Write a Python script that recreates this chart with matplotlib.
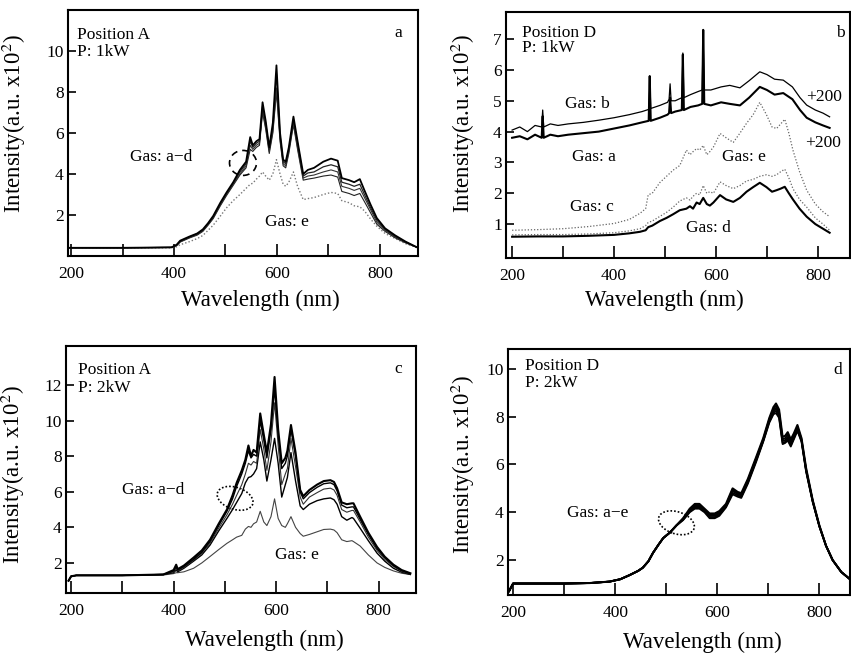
import matplotlib
matplotlib.use("Agg")
import matplotlib.pyplot as plt
from matplotlib.patches import Ellipse
from matplotlib.transforms import ScaledTranslation
from matplotlib.ticker import MultipleLocator

plt.rcParams['font.family'] = ['Liberation Serif', 'DejaVu Serif']
plt.rcParams['mathtext.fontset'] = 'stix'

# ---------------- Panel a: Position A, 1 kW ----------------
wl_a = [194, 300, 395, 405, 412, 430, 445, 456, 466, 476, 490, 502, 515, 528, 540, 548, 553, 560,
        566, 572, 578, 585, 592, 599, 606, 612, 617, 623, 632, 640, 651, 660, 672, 690, 705, 718,
        726, 740, 750, 761, 770, 782, 794, 810, 830, 850, 874]
a_gas1 = [0.4, 0.4, 0.42, 0.55, 0.75, 0.95, 1.1, 1.3, 1.6, 1.95, 2.6, 3.1, 3.6, 4.2, 4.6, 5.8, 5.4, 5.6,
          5.7, 7.5, 6.6, 5.3, 6.5, 9.3, 6.0, 4.7, 4.6, 5.3, 6.8, 5.6, 4.0, 4.2, 4.3, 4.6, 4.75, 4.65,
          3.8, 3.7, 3.6, 3.75, 3.2, 2.5, 1.85, 1.35, 1.0, 0.7, 0.4]
a_gas2 = [0.4, 0.4, 0.42, 0.53, 0.72, 0.93, 1.08, 1.27, 1.57, 1.9, 2.55, 3.05, 3.55, 4.1, 4.5, 5.6, 5.3, 5.5,
          5.6, 7.3, 6.5, 5.2, 6.3, 8.9, 5.9, 4.6, 4.5, 5.2, 6.6, 5.5, 3.9, 4.05, 4.1, 4.35, 4.45, 4.35,
          3.6, 3.5, 3.4, 3.5, 3.0, 2.35, 1.75, 1.3, 0.95, 0.68, 0.4]
a_gas3 = [0.4, 0.4, 0.42, 0.52, 0.7, 0.9, 1.05, 1.24, 1.53, 1.86, 2.5, 3.0, 3.5, 4.0, 4.4, 5.4, 5.2, 5.4,
          5.5, 7.1, 6.3, 5.1, 6.1, 8.2, 5.7, 4.5, 4.4, 5.1, 6.5, 5.3, 3.8, 3.9, 3.95, 4.1, 4.2, 4.1,
          3.4, 3.3, 3.2, 3.3, 2.85, 2.25, 1.65, 1.25, 0.92, 0.66, 0.4]
a_gas4 = [0.4, 0.4, 0.42, 0.5, 0.68, 0.88, 1.02, 1.2, 1.5, 1.82, 2.45, 2.95, 3.45, 3.95, 4.3, 5.2, 5.1, 5.3,
          5.4, 7.0, 6.2, 5.0, 6.0, 8.0, 5.6, 4.4, 4.3, 5.0, 6.4, 5.2, 3.7, 3.75, 3.8, 3.9, 3.95, 3.85,
          3.15, 3.05, 2.95, 3.05, 2.65, 2.1, 1.55, 1.2, 0.88, 0.64, 0.4]
a_gas_e = [0.4, 0.4, 0.4, 0.45, 0.55, 0.7, 0.85, 1.0, 1.25, 1.5, 1.95, 2.35, 2.7, 3.0, 3.3, 3.5, 3.55, 3.75,
           3.9, 4.1, 3.9, 3.7, 4.0, 4.7, 4.0, 3.5, 3.4, 3.6, 4.1, 3.4, 2.75, 2.8, 2.85, 3.0, 3.1, 3.05,
           2.7, 2.6, 2.45, 2.4, 2.2, 1.8, 1.45, 1.1, 0.85, 0.6, 0.4]

# ---------------- Panel b: Position D, 1 kW ----------------
wl_b_top = [200, 215, 230, 245, 258, 260, 262, 275, 290, 310, 340, 370, 400, 430, 455, 468, 470, 472,
            490, 505, 508, 510, 512, 520, 533, 535, 537, 550, 565, 573, 575, 577, 590, 610, 627, 647,
            665, 686, 700, 715, 732, 750, 765, 778, 795, 810, 823]
b_gas_b = [4.05, 4.15, 4.0, 4.2, 4.15, 4.7, 4.15, 4.25, 4.2, 4.25, 4.3, 4.37, 4.45, 4.55, 4.65, 4.72, 5.8, 4.75,
           4.85, 4.95, 5.05, 5.55, 5.0, 5.0, 5.1, 6.55, 5.1, 5.2, 5.3, 5.35, 7.3, 5.35, 5.35, 5.45, 5.5, 5.42,
           5.65, 5.94, 5.85, 5.7, 5.67, 5.45, 5.1, 4.86, 4.7, 4.6, 4.48]
b_gas_a = [3.8, 3.85, 3.75, 3.9, 3.8, 4.5, 3.8, 3.9, 3.85, 3.9, 3.95, 4.0, 4.1, 4.2, 4.3, 4.35, 5.8, 4.35,
           4.45, 4.55, 4.6, 5.1, 4.6, 4.65, 4.7, 6.5, 4.7, 4.8, 4.85, 4.9, 7.3, 4.9, 4.85, 4.95, 4.9, 4.85,
           5.1, 5.45, 5.35, 5.2, 5.25, 5.05, 4.7, 4.45, 4.3, 4.2, 4.12]
wl_b_low = [200, 250, 300, 350, 400, 430, 451, 462, 467, 475, 490, 503, 516, 529, 542, 549, 555, 562,
            568, 575, 582, 588, 595, 608, 620, 634, 647, 660, 673, 686, 699, 710, 719, 727, 735, 743,
            751, 764, 778, 795, 810, 823]
b_gas_e = [0.8, 0.82, 0.85, 0.92, 1.02, 1.15, 1.35, 1.5, 1.95, 2.0, 2.35, 2.55, 2.75, 2.9, 3.4, 3.25, 3.35, 3.45,
           3.4, 3.55, 3.25, 3.35, 3.5, 3.94, 3.8, 3.65, 3.95, 4.27, 4.55, 4.95, 4.55, 4.15, 4.1, 4.25, 4.4, 3.95,
           3.4, 2.7, 2.1, 1.65, 1.4, 1.24]
b_gas_c = [0.65, 0.66, 0.66, 0.68, 0.72, 0.78, 0.85, 0.95, 1.05, 1.1, 1.25, 1.38, 1.55, 1.75, 1.85, 1.78, 1.9, 2.0,
           1.95, 2.25, 2.0, 2.05, 2.0, 2.37, 2.25, 2.15, 2.25, 2.4, 2.45, 2.55, 2.6, 2.55, 2.6, 2.7, 2.78, 2.5,
           2.15, 1.8, 1.55, 1.2, 1.0, 0.8]
b_gas_d = [0.59, 0.6, 0.6, 0.62, 0.65, 0.7, 0.75, 0.8, 0.9, 0.95, 1.1, 1.2, 1.32, 1.45, 1.5, 1.58, 1.5, 1.7,
           1.65, 1.85, 1.65, 1.6, 1.7, 1.94, 1.8, 1.72, 1.85, 2.05, 2.2, 2.34, 2.2, 2.05, 2.1, 2.15, 2.21, 2.0,
           1.8, 1.5, 1.24, 1.0, 0.85, 0.72]

# ---------------- Panel c: Position A, 2 kW ----------------
wl_c = [195, 200, 210, 300, 380, 400, 405, 408, 420, 439, 455, 471, 488, 504, 515, 523, 533, 540, 546, 551,
        556, 562, 569, 576, 582, 590, 597, 604, 611, 618, 622, 629, 638, 647, 653, 665, 680, 693, 706, 713,
        719, 728, 738, 748, 751, 764, 780, 797, 812, 829, 845, 862]
c_gas1 = [1.0, 1.25, 1.3, 1.3, 1.35, 1.6, 1.9, 1.65, 1.85, 2.3, 2.7, 3.3, 4.2, 5.0, 5.8, 6.5, 7.2, 7.8, 8.6, 8.0,
          8.35, 8.2, 10.4, 9.2, 8.2, 9.8, 12.45, 9.5, 7.6, 7.9, 8.3, 9.75, 8.2, 6.1, 5.75, 6.1, 6.4, 6.6, 6.65, 6.55,
          6.2, 5.4, 5.3, 5.35, 5.35, 4.6, 3.7, 2.9, 2.35, 1.9, 1.6, 1.42]
c_gas2 = [1.0, 1.25, 1.3, 1.3, 1.35, 1.55, 1.8, 1.6, 1.8, 2.2, 2.6, 3.2, 4.1, 4.9, 5.6, 6.3, 7.0, 7.6, 8.3, 7.9,
          8.1, 8.0, 10.0, 8.9, 7.9, 9.5, 11.8, 9.2, 7.3, 7.6, 8.0, 9.5, 8.0, 6.0, 5.6, 5.95, 6.25, 6.45, 6.5, 6.4,
          6.05, 5.25, 5.1, 5.15, 5.15, 4.45, 3.6, 2.8, 2.3, 1.85, 1.57, 1.4]
c_gas3 = [1.0, 1.25, 1.3, 1.3, 1.35, 1.5, 1.7, 1.55, 1.75, 2.15, 2.55, 3.1, 3.95, 4.7, 5.3, 5.8, 6.4, 7.0, 7.6, 7.5,
          7.7, 7.6, 9.5, 8.4, 7.2, 8.8, 11.0, 8.6, 6.4, 7.0, 7.3, 9.0, 7.4, 5.7, 5.3, 5.7, 5.95, 6.15, 6.2, 6.1,
          5.8, 5.0, 4.85, 4.95, 4.95, 4.3, 3.45, 2.7, 2.2, 1.8, 1.52, 1.38]
c_gas4 = [1.0, 1.25, 1.3, 1.3, 1.35, 1.45, 1.6, 1.5, 1.7, 2.1, 2.45, 3.0, 3.8, 4.5, 5.0, 5.4, 5.9, 6.5, 6.8, 6.85,
          7.0, 7.3, 8.8, 7.8, 6.6, 7.8, 9.0, 7.6, 5.7, 6.4, 6.8, 8.2, 6.6, 5.2, 5.0, 5.3, 5.5, 5.6, 5.65, 5.55,
          5.3, 4.6, 4.4, 4.55, 4.5, 3.95, 3.25, 2.55, 2.1, 1.7, 1.48, 1.35]
c_gas_e = [1.0, 1.25, 1.3, 1.3, 1.32, 1.4, 1.45, 1.45, 1.5, 1.7, 2.0, 2.36, 2.75, 3.1, 3.3, 3.45, 3.55, 3.9, 4.05, 4.0,
           4.2, 4.3, 4.9, 4.3, 4.1, 4.6, 5.6, 4.5, 4.1, 4.0, 4.2, 4.6, 4.0, 3.65, 3.5, 3.6, 3.75, 3.88, 3.9, 3.85,
           3.7, 3.3, 3.2, 3.25, 3.2, 2.95, 2.45, 2.0, 1.75, 1.55, 1.42, 1.35]

# ---------------- Panel d: Position D, 2 kW ----------------
wl_d = [192, 200, 250, 300, 350, 389, 410, 428, 445, 454, 465, 474, 485, 494, 507, 520, 533, 546, 556, 565,
        575, 585, 595, 604, 617, 630, 640, 647, 660, 676, 690, 702, 710, 715, 721, 728, 733, 738, 744, 750,
        757, 765, 774, 787, 800, 813, 826, 843, 860]
d_gas1 = [0.7, 1.02, 1.02, 1.02, 1.04, 1.1, 1.2, 1.37, 1.55, 1.68, 1.95, 2.3, 2.65, 2.92, 3.15, 3.45, 3.75, 4.15, 4.35, 4.35,
          4.15, 3.95, 3.95, 4.05, 4.35, 5.0, 4.85, 4.8, 5.4, 6.3, 7.1, 7.95, 8.4, 8.55, 8.3, 7.15, 7.2, 7.35, 7.05, 7.3,
          7.65, 7.1, 5.85, 4.5, 3.45, 2.6, 2.0, 1.5, 1.2]
d_gas2 = [0.7, 1.02, 1.02, 1.02, 1.04, 1.1, 1.2, 1.37, 1.55, 1.68, 1.95, 2.3, 2.65, 2.92, 3.15, 3.45, 3.73, 4.1, 4.3, 4.3,
          4.1, 3.9, 3.9, 4.0, 4.3, 4.95, 4.8, 4.75, 5.35, 6.25, 7.05, 7.9, 8.3, 8.45, 8.2, 7.05, 7.1, 7.25, 6.95, 7.22,
          7.58, 7.05, 5.8, 4.48, 3.43, 2.6, 2.0, 1.5, 1.2]
d_gas3 = [0.7, 1.02, 1.02, 1.02, 1.04, 1.1, 1.2, 1.37, 1.55, 1.68, 1.95, 2.3, 2.65, 2.92, 3.15, 3.45, 3.71, 4.07, 4.25, 4.25,
          4.07, 3.85, 3.85, 3.95, 4.27, 4.9, 4.75, 4.7, 5.3, 6.2, 7.0, 7.85, 8.22, 8.35, 8.1, 6.98, 7.02, 7.15, 6.88, 7.15,
          7.52, 7.02, 5.76, 4.46, 3.42, 2.6, 2.0, 1.5, 1.2]
d_gas4 = [0.7, 1.02, 1.02, 1.02, 1.04, 1.1, 1.2, 1.37, 1.55, 1.68, 1.95, 2.3, 2.65, 2.92, 3.15, 3.45, 3.69, 4.03, 4.2, 4.2,
          4.03, 3.8, 3.8, 3.9, 4.23, 4.82, 4.7, 4.65, 5.25, 6.15, 6.98, 7.8, 8.15, 8.25, 8.02, 6.9, 6.95, 7.08, 6.8, 7.1,
          7.46, 6.98, 5.73, 4.44, 3.41, 2.6, 2.0, 1.5, 1.2]
d_gas5 = [0.7, 1.02, 1.02, 1.02, 1.04, 1.1, 1.2, 1.37, 1.55, 1.68, 1.95, 2.3, 2.65, 2.92, 3.15, 3.45, 3.67, 4.0, 4.15, 4.15,
          4.0, 3.75, 3.75, 3.85, 4.2, 4.75, 4.65, 4.6, 5.2, 6.1, 6.95, 7.75, 8.1, 8.15, 7.95, 6.85, 6.9, 7.0, 6.75, 7.05,
          7.4, 6.95, 5.7, 4.42, 3.4, 2.6, 2.0, 1.5, 1.2]

# ---------------- figure ----------------
W, H = 851, 653
fig = plt.figure(figsize=(W / 100, H / 100), dpi=100)


def make_ax(l, r, t, b):
    return fig.add_axes([l / W, (H - b) / H, (r - l) / W, (b - t) / H])


ax_a = make_ax(68, 418, 10, 256)
ax_b = make_ax(506, 850, 12, 258)
ax_c = make_ax(66, 416, 346, 593)
ax_d = make_ax(508, 850, 349, 595)

TICK_FS = 12.5
TXT_FS = 12.5
LAB_FS = 16.5


def style(ax, xlim, ylim, yticks, ylab_xy, xlab_xy):
    ax.set_xlim(*xlim)
    ax.set_ylim(*ylim)
    ax.set_xticks([200, 400, 600, 800])
    ax.xaxis.set_minor_locator(MultipleLocator(100))
    ax.set_yticks(yticks)
    ax.tick_params(axis='both', which='both', direction='in', labelsize=TICK_FS, width=1.2)
    ax.tick_params(axis='x', which='both', length=9, pad=7)
    ax.tick_params(axis='y', which='major', length=6, pad=3)
    for s in ax.spines.values():
        s.set_linewidth(1.5)
    ax.set_ylabel('Intensity(a.u. x10$^2$)', fontsize=LAB_FS)
    ax.set_xlabel('Wavelength (nm)', fontsize=LAB_FS)
    ax.yaxis.set_label_coords(*ylab_xy)
    ax.xaxis.set_label_coords(*xlab_xy)


def ellipse(ax, cx, cy, w_px, h_px, angle, ls):
    tr = fig.dpi_scale_trans + ScaledTranslation(cx, cy, ax.transData)
    e = Ellipse((0, 0), w_px / 100, h_px / 100, angle=angle, transform=tr,
                fill=False, edgecolor='black', linewidth=1.2, linestyle=ls)
    ax.add_patch(e)


# Panel a
ax = ax_a
ax.plot(wl_a, a_gas_e, color='#777777', lw=1.0, ls=(0, (1, 1.5)))
ax.plot(wl_a, a_gas4, color='#222222', lw=0.8)
ax.plot(wl_a, a_gas3, color='#333333', lw=0.8)
ax.plot(wl_a, a_gas2, color='#222222', lw=0.9)
ax.plot(wl_a, a_gas1, color='black', lw=1.3)
style(ax, (194, 874), (0, 12.0), [2, 4, 6, 8, 10], (-0.114, 0.54), (0.55, -0.138))
ax.text(212, 10.8, 'Position A', fontsize=TXT_FS, va='center')
ax.text(212, 9.95, 'P: 1kW', fontsize=TXT_FS, va='center')
ax.text(829, 10.9, 'a', fontsize=TXT_FS, va='center')
ax.text(315, 4.83, 'Gas: a\u2212d', fontsize=TXT_FS, va='center')
ax.text(577, 1.66, 'Gas: e', fontsize=TXT_FS, va='center')
ellipse(ax, 534, 4.54, 27, 25, 0, (0, (4, 3)))

# Panel b
ax = ax_b
ax.plot(wl_b_low, b_gas_e, color='#666666', lw=0.9, ls=(0, (1, 1.5)))
ax.plot(wl_b_low, b_gas_c, color='#666666', lw=0.9, ls=(0, (1, 1.5)))
ax.plot(wl_b_low, b_gas_d, color='black', lw=1.5)
ax.plot(wl_b_top, b_gas_b, color='black', lw=0.9)
ax.plot(wl_b_top, b_gas_a, color='black', lw=1.5)
style(ax, (188, 863), (-0.1, 7.88), [1, 2, 3, 4, 5, 6, 7], (-0.084, 0.547), (0.46, -0.13))
ax.text(219, 7.2, 'Position D', fontsize=TXT_FS, va='center')
ax.text(219, 6.7, 'P: 1kW', fontsize=TXT_FS, va='center')
ax.text(835, 7.2, 'b', fontsize=TXT_FS, va='center')
ax.text(304, 4.9, 'Gas: b', fontsize=TXT_FS, va='center')
ax.text(776, 5.13, '+200', fontsize=TXT_FS, va='center')
ax.text(317, 3.18, 'Gas: a', fontsize=TXT_FS, va='center')
ax.text(774, 3.63, '+200', fontsize=TXT_FS, va='center')
ax.text(611, 3.18, 'Gas: e', fontsize=TXT_FS, va='center')
ax.text(314, 1.56, 'Gas: c', fontsize=TXT_FS, va='center')
ax.text(542, 0.86, 'Gas: d', fontsize=TXT_FS, va='center')

# Panel c
ax = ax_c
ax.plot(wl_c, c_gas_e, color='#444444', lw=0.8)
ax.plot(wl_c, c_gas4, color='black', lw=1.0)
ax.plot(wl_c, c_gas3, color='#333333', lw=0.8)
ax.plot(wl_c, c_gas2, color='black', lw=1.0)
ax.plot(wl_c, c_gas1, color='black', lw=1.5)
style(ax, (190, 873), (0.31, 14.19), [2, 4, 6, 8, 10, 12], (-0.111, 0.48), (0.566, -0.15))
ax.text(213, 12.85, 'Position A', fontsize=TXT_FS, va='center')
ax.text(213, 11.85, 'P: 2kW', fontsize=TXT_FS, va='center')
ax.text(830, 12.9, 'c', fontsize=TXT_FS, va='center')
ax.text(299, 6.1, 'Gas: a\u2212d', fontsize=TXT_FS, va='center')
ax.text(598, 2.45, 'Gas: e', fontsize=TXT_FS, va='center')
ellipse(ax, 520, 5.63, 37, 22, -18, (0, (1, 1.2)))

# Panel d
ax = ax_d
for ys, lw in ((d_gas5, 1.3), (d_gas4, 1.3), (d_gas3, 1.3), (d_gas2, 1.3), (d_gas1, 1.5)):
    ax.plot(wl_d, ys, color='black', lw=lw)
style(ax, (190, 860), (0.54, 10.83), [2, 4, 6, 8, 10], (-0.091, 0.528), (0.569, -0.15))
ax.text(223, 10.1, 'Position D', fontsize=TXT_FS, va='center')
ax.text(223, 9.4, 'P: 2kW', fontsize=TXT_FS, va='center')
ax.text(827, 9.95, 'd', fontsize=TXT_FS, va='center')
ax.text(305, 3.95, 'Gas: a\u2212e', fontsize=TXT_FS, va='center')
ellipse(ax, 520, 3.56, 37, 22, -18, (0, (1, 1.2)))

fig.savefig('out.png', dpi=100)
